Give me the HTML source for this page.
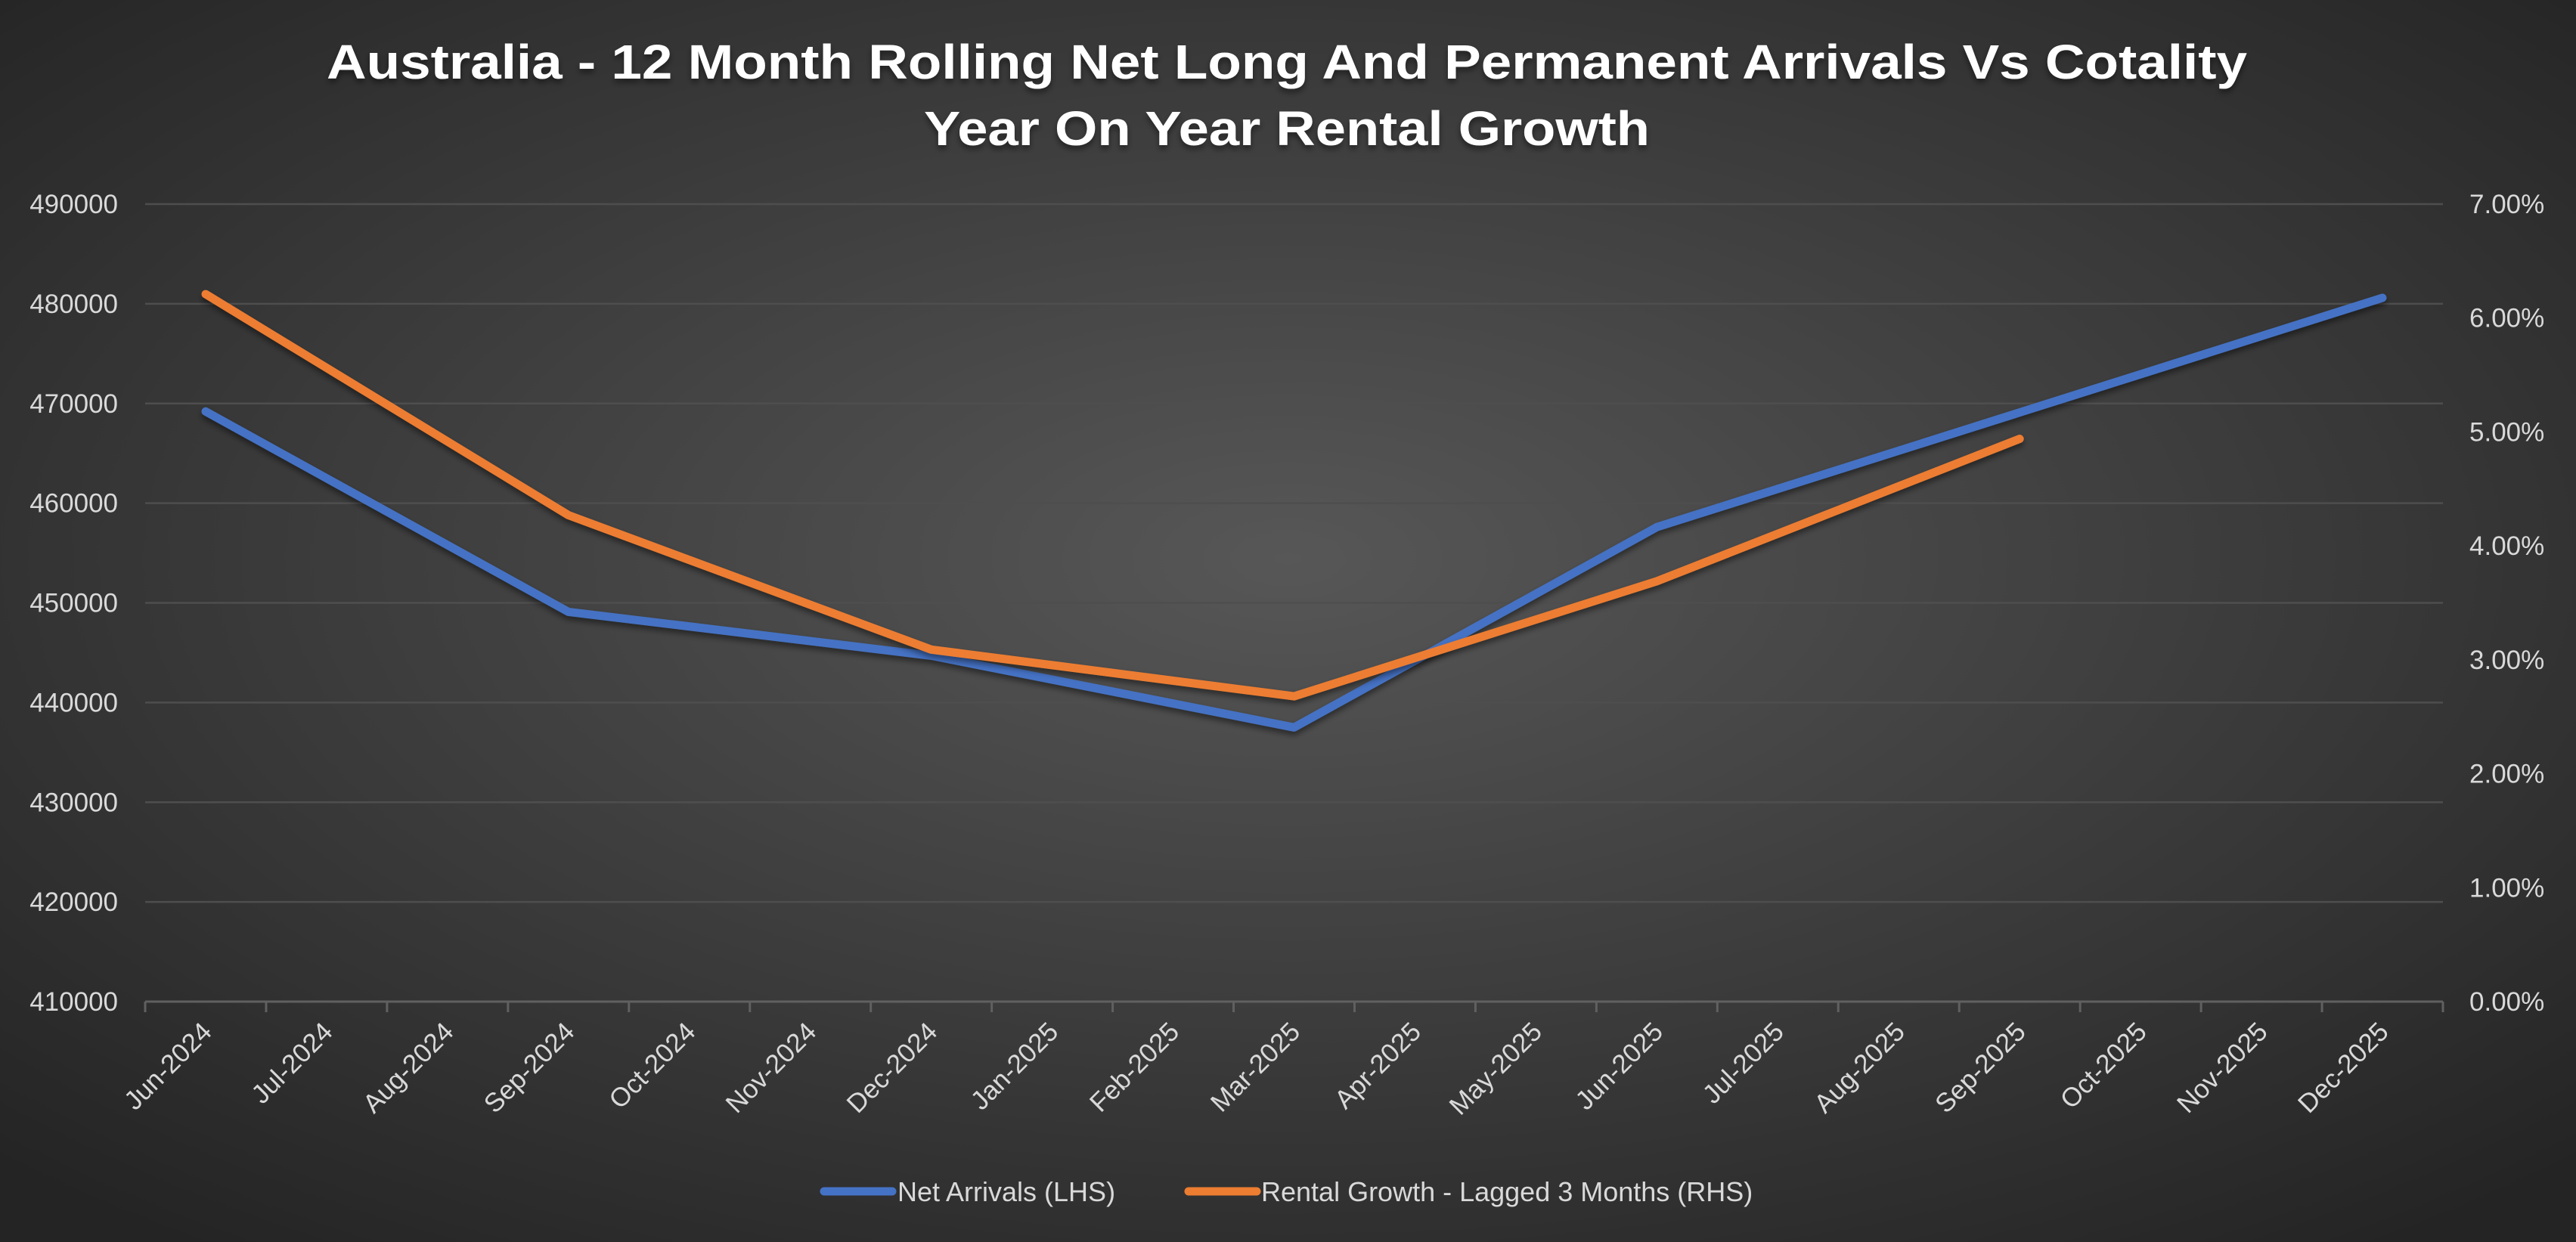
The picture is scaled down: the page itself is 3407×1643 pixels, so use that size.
<!DOCTYPE html>
<html><head><meta charset="utf-8"><style>
html,body{margin:0;padding:0;background:#2a2a2a}
svg{display:block}
text{font-family:"Liberation Sans",sans-serif}
</style></head><body>
<svg id="chart" width="3407" height="1643" viewBox="0 0 3407 1643" xmlns="http://www.w3.org/2000/svg">
<defs>
<radialGradient id="bg" cx="50%" cy="45%" r="70%">
<stop offset="0" stop-color="#575757"/><stop offset="1" stop-color="#242424"/>
</radialGradient>
<filter id="sh" x="-5%" y="-5%" width="110%" height="120%"><feDropShadow dx="0" dy="5" stdDeviation="4" flood-color="#000" flood-opacity="0.45"/></filter>
</defs>
<rect width="3407" height="1643" fill="url(#bg)"/>
<g fill="#fff" font-weight="bold" font-size="64" text-anchor="middle" filter="url(#sh)">
<text x="1702" y="104" textLength="2540" lengthAdjust="spacingAndGlyphs">Australia - 12 Month Rolling Net Long And Permanent Arrivals Vs Cotality</text>
<text x="1702" y="192" textLength="960" lengthAdjust="spacingAndGlyphs">Year On Year Rental Growth</text>
</g>
<g id="grid"></g>
<g id="yl"></g>
<g id="yr"></g>
<g id="xa"></g>
<g id="series"></g>
<g font-size="36" fill="#d9d9d9">
<g>
<line x1="1090" y1="1576" x2="1180" y2="1576" stroke="#4472c4" stroke-width="11" stroke-linecap="round"/>
<text x="1187" y="1589">Net Arrivals (LHS)</text></g>
<g>
<line x1="1572" y1="1576" x2="1662" y2="1576" stroke="#ed7d31" stroke-width="11" stroke-linecap="round"/>
<text x="1668" y="1589">Rental Growth - Lagged 3 Months (RHS)</text></g>
</g>
</svg>
<script>
const categories=["Jun-2024","Jul-2024","Aug-2024","Sep-2024","Oct-2024","Nov-2024","Dec-2024","Jan-2025","Feb-2025","Mar-2025","Apr-2025","May-2025","Jun-2025","Jul-2025","Aug-2025","Sep-2025","Oct-2025","Nov-2025","Dec-2025"];
const netArrivals=[469200,null,null,449100,null,null,444700,null,null,437500,null,null,457600,null,null,null,null,null,480600];
const rentalGrowth=[6.21,null,null,4.27,null,null,3.09,null,null,2.68,null,null,3.69,null,null,4.94,null,null,null];
const leftTicks=[410000,420000,430000,440000,450000,460000,470000,480000,490000];
const rightTicks=[0,1,2,3,4,5,6,7];
const NS="http://www.w3.org/2000/svg";
const L=192,R=3231,T=270,B=1325;
const xStep=(R-L)/categories.length;
function xPos(i){return L+xStep*(i+0.5);}
function yLeft(v){return B-(v-410000)/(490000-410000)*(B-T);}
function yRight(v){return B-(v-0)/(7-0)*(B-T);}
function mk(tag,attrs,parent){const e=document.createElementNS(NS,tag);for(const k in attrs)e.setAttribute(k,attrs[k]);parent.appendChild(e);return e;}
const grid=document.getElementById('grid'),yl=document.getElementById('yl'),yr=document.getElementById('yr'),xa=document.getElementById('xa'),ser=document.getElementById('series');
leftTicks.forEach(v=>{const y=yLeft(v);
 if(v>410000){const g=mk('line',{x1:L,x2:R,y1:y,y2:y,stroke:'#4e4e4e','stroke-width':2.5},grid);
 
 }
 const t=mk('text',{x:156,y:y+12,'text-anchor':'end','font-size':35,fill:'#d9d9d9'},yl);t.textContent=String(v);
 
 
});
rightTicks.forEach(v=>{const t=mk('text',{x:3266,y:yRight(v)+12,'font-size':35,fill:'#d9d9d9'},yr);t.textContent=v.toFixed(2)+'%';
 
 
});
const ax=mk('line',{x1:L,x2:R,y1:B,y2:B,stroke:'#606060','stroke-width':3},xa);


for(let i=0;i<=categories.length;i++){const x=L+xStep*i;const tk=mk('line',{x1:x,x2:x,y1:B,y2:B+14,stroke:'#606060','stroke-width':3},xa);
 
 }
categories.forEach((c,i)=>{const x=xPos(i)+10,y=B+42;
 const t=mk('text',{x:x,y:y,'text-anchor':'end','font-size':35,fill:'#d9d9d9',transform:`rotate(-45 ${x} ${y})`},xa);t.textContent=c;
 
 
});
function draw(vals,yf,color,name){const pts=[];vals.forEach((v,i)=>{if(v!==null)pts.push(xPos(i).toFixed(1)+','+yf(v).toFixed(1));});
 const p=mk('polyline',{points:pts.join(' '),fill:'none',stroke:color,'stroke-width':11,'stroke-linecap':'round','stroke-linejoin':'round',filter:'url(#sh)'},ser);
 
 }
draw(netArrivals,yLeft,'#4472c4','net-arrivals-line');
draw(rentalGrowth,yRight,'#ed7d31','rental-growth-line');
</script>
</body></html>
